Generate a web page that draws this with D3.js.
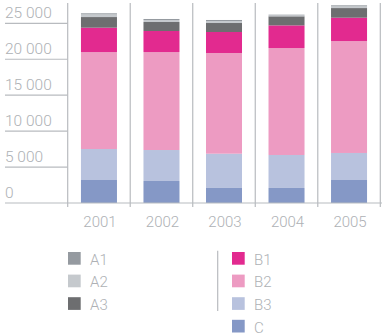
<!DOCTYPE html>
<html>
<head>
<meta charset="utf-8">
<script src="https://cdn.jsdelivr.net/npm/d3@7"></script>
<style>
  html, body { margin: 0; padding: 0; background: #fff; }
  svg { display: block; }
  text { font-family: Roboto, "Liberation Sans", sans-serif; font-weight: 300; fill: #aeb1b5; }
</style>
</head>
<body>
<svg id="chart" width="382" height="335"></svg>
<script>
// Years on the x axis
const years = ["2001", "2002", "2003", "2004", "2005"];
// Stack order, bottom to top
const seriesKeys = ["C", "B3", "B2", "B1", "A3", "A2", "A1"];
// Values per series, one per year
const C  = [3200, 3060, 2090, 2090, 3200];
const B3 = [4310, 4310, 4770, 4590, 3760];
const B2 = [13490, 13630, 14010, 14880, 15570];
const B1 = [3390, 2930, 2920, 3150, 3250];
const A3 = [1480, 1250, 1250, 1260, 1340];
const A2 = [370, 280, 280, 140, 240];
const A1 = [150, 140, 140, 90, 140];
// Axis ticks
const yTicks = [0, 5000, 10000, 15000, 20000, 25000];
// Legend columns
const legendLeft = ["A1", "A2", "A3"];
const legendRight = ["B1", "B2", "B3", "C"];

const colors = {
  A1: "#959aa0", A2: "#c5c9cd", A3: "#6d6e70",
  B1: "#e22a8f", B2: "#ed9bc2", B3: "#b8c2de", C: "#8598c6"
};
const lineColor = "#b8bbbf";

const valuesBy = { C, B3, B2, B1, A3, A2, A1 };
const rows = years.map((yr, i) => {
  const r = { year: yr };
  seriesKeys.forEach(k => r[k] = valuesBy[k][i]);
  return r;
});

const svg = d3.select("#chart");

const x = d3.scaleBand().domain(years).range([67.7, 380.3])
  .paddingInner(0.424).paddingOuter(0.212);
const y = d3.scaleLinear().domain([0, 25000]).range([203, 23.3]);

const fmt = d3.formatLocale({ thousands: " ", grouping: [3], decimal: ",", currency: ["", ""] }).format(",d");

// Horizontal gridlines in the label column
const grid = svg.append("g");
grid.selectAll("line.h").data(yTicks.filter(t => t > 0)).join("line")
  .attr("x1", 5).attr("x2", 67.7)
  .attr("y1", d => y(d)).attr("y2", d => y(d))
  .attr("stroke", lineColor).attr("stroke-width", 1.2);

// Value labels sit just above each gridline
grid.selectAll("text").data(yTicks).join("text")
  .attr("x", 5).attr("y", d => y(d) - 5.5)
  .attr("font-size", 15.5)
  .text(d => fmt(d));

// Band separators
const edges = years.map(yr => x(yr) - x.step() * x.paddingOuter() ).concat([380.3]);
grid.selectAll("line.v").data(edges).join("line")
  .attr("x1", d => d).attr("x2", d => d)
  .attr("y1", 3).attr("y2", 207)
  .attr("stroke", lineColor).attr("stroke-width", 1.2);

// Stacked bars
const stack = d3.stack().keys(seriesKeys)(rows);
svg.append("g").selectAll("g").data(stack).join("g")
  .attr("fill", d => colors[d.key])
  .selectAll("rect").data(d => d).join("rect")
  .attr("x", d => x(d.data.year))
  .attr("width", x.bandwidth())
  .attr("y", d => y(d[1]))
  .attr("height", d => y(d[0]) - y(d[1]));

// Baseline across the full width
svg.append("line")
  .attr("x1", 5).attr("x2", 382)
  .attr("y1", y(0)).attr("y2", y(0))
  .attr("stroke", lineColor).attr("stroke-width", 1.2);

// Year labels
svg.append("g").selectAll("text").data(years).join("text")
  .attr("x", d => x(d) + x.bandwidth() / 2 + 1)
  .attr("y", 227)
  .attr("text-anchor", "middle")
  .attr("font-size", 15)
  .text(d => d);

// Legend
const rowStep = 22.6;
function legendColumn(keys, x0) {
  const g = svg.append("g");
  const item = g.selectAll("g").data(keys).join("g")
    .attr("transform", (d, i) => `translate(${x0},${252 + i * rowStep})`);
  item.append("rect").attr("width", 12.7).attr("height", 12.7)
    .attr("fill", d => colors[d]);
  item.append("text").attr("x", 22).attr("y", 12.8)
    .attr("font-size", 15).text(d => d);
}
legendColumn(legendLeft, 68);
legendColumn(legendRight, 232);

svg.append("line")
  .attr("x1", 217.7).attr("x2", 217.7)
  .attr("y1", 250.7).attr("y2", 311)
  .attr("stroke", lineColor).attr("stroke-width", 1.2);
</script>
</body>
</html>
